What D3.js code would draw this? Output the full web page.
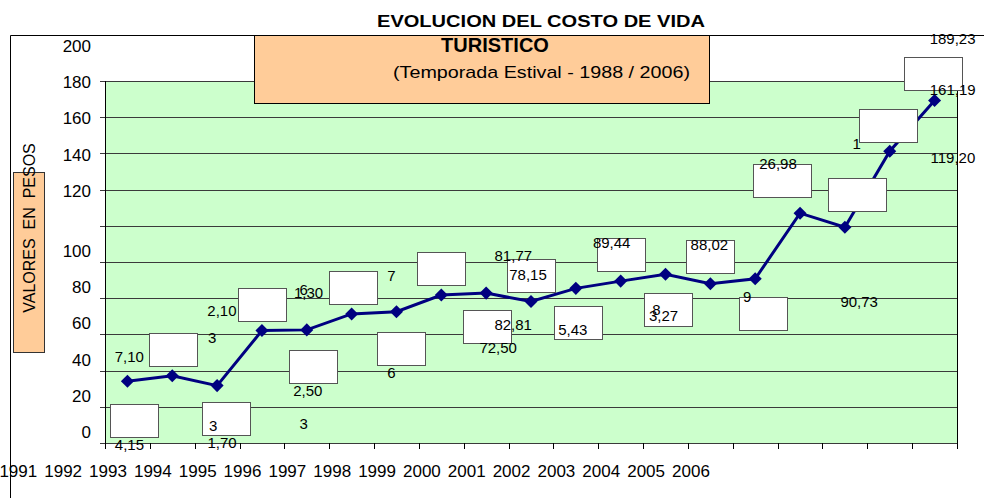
<!DOCTYPE html>
<html>
<head>
<meta charset="utf-8">
<script src="https://cdn.jsdelivr.net/npm/d3@7/dist/d3.min.js"></script>
<style>
  body { margin: 0; background: #fff; }
  text { font-family: "Liberation Sans", Arial, sans-serif; fill: #000; }
</style>
</head>
<body>
<div class="chart"></div>
<script>
// temporada estival, costo de vida turistico
const years = ['1988','1989','1990','1991','1992','1993','1994','1995','1996','1997',
  '1998','1999','2000','2001','2002','2003','2004','2005','2006'];
const costo = [34.15, 37.10, 31.70, 62.10, 62.50, 71.30, 72.50, 81.77, 82.81, 78.15,
  85.43, 89.44, 93.27, 88.02, 90.73, 126.98, 119.20, 161.19, 189.23];
const yTicks = [0, 20, 40, 60, 80, 100, 120, 140, 160, 180, 200];
const xTickLabels = ['1991','1992','1993','1994','1995','1996','1997','1998','1999',
  '2000','2001','2002','2003','2004','2005','2006'];

// white label boxes around each point: [dx, dy, width]
const boxLayout = [[7,39,48],[1,-26,48],[9,33,48],[0,-26,48],[6,37,48],[1,-26,48],
  [5,37,48],[0,-26,48],[1,33,48],[0,-26,48],[2,34,48],[0,-27,48],[2,35,48],[0,-27,48],
  [8,35,48],[-18,-33,58],[12,-33,58],[-2,-26,58],[-2,-27,58]];
// scattered label text pieces: [point, text, dx, dy]
const labelBits = [
  [0,'4,15',2,64],[1,'7,10',-43,-19],[1,'3',40,-38],[2,'3',-4,40],[2,'1,70',5,57],
  [3,'2,10',-40,-20],[4,'2,50',1,61],[4,'3',-3,94],[5,'1,30',-43,-21],[5,'6',-48,-24],
  [6,'7',-5,-36],[6,'6',-5,61],[7,'81,77',72,-39],[8,'82,81',27,32],[8,'72,50',12,55],
  [9,'78,15',-3,-27],[10,'5,43',-3,41],[11,'89,44',-9,-38],[12,'8',-9,36],[12,'3,27',-2,42],
  [13,'88,02',-1,-39],[14,'9',-8,18],[14,'90,73',104,23],[15,'26,98',-22,-49],
  [16,'119,20',108,-69],[17,'1',-33,-7],[17,'161,19',63,-61],[18,'189,23',18,-62]
];

const width = 984, height = 498;
const svg = d3.select('.chart').append('svg')
  .attr('width', width).attr('height', height);

const x = d3.scaleBand().domain(years).range([105, 957]).padding(0);
const y = d3.scaleLinear().domain([0, 200]).range([443, 81]);
const cx = d => x(d) + x.bandwidth() / 2;

// outer frame
svg.append('line').attr('x1', 10.5).attr('y1', 35.5).attr('x2', width).attr('y2', 35.5)
  .attr('stroke', '#000');
svg.append('line').attr('x1', 10.5).attr('y1', 35.5).attr('x2', 10.5).attr('y2', height)
  .attr('stroke', '#000');

// plot area
svg.append('rect').attr('x', 105).attr('y', y(200)).attr('width', 852)
  .attr('height', y(0) - y(200)).attr('fill', '#CCFFCC');

svg.append('g').selectAll('line').data(yTicks).enter().append('line')
  .attr('x1', 100).attr('x2', 957)
  .attr('y1', d => Math.round(y(d)) + 0.5).attr('y2', d => Math.round(y(d)) + 0.5)
  .attr('stroke', '#3a3a3a').attr('stroke-width', 1);

svg.append('line').attr('x1', 957.5).attr('x2', 957.5).attr('y1', y(200)).attr('y2', y(0) + 5)
  .attr('stroke', '#000');
svg.append('line').attr('x1', 105.5).attr('x2', 105.5).attr('y1', y(200)).attr('y2', y(0) + 5)
  .attr('stroke', '#000');

// x ticks at band edges
const edges = years.map(d => x(d)).concat([957]);
svg.append('g').selectAll('line').data(edges).enter().append('line')
  .attr('x1', d => Math.round(d) + 0.5).attr('x2', d => Math.round(d) + 0.5)
  .attr('y1', y(0)).attr('y2', y(0) + 6).attr('stroke', '#000');

// y tick labels (shifted like the original)
svg.append('g').selectAll('text').data(yTicks).enter().append('text')
  .attr('x', 91).attr('y', d => y(d) + (d > 100 ? -35 : -11))
  .attr('dy', '0.35em').attr('text-anchor', 'end')
  .attr('font-size', 17).text(d => d);

// x tick labels, two steps left of the first band
svg.append('g').selectAll('text').data(xTickLabels).enter().append('text')
  .attr('x', (d, i) => x.range()[0] + x.step() * (i - 2) + 3)
  .attr('y', 477).attr('text-anchor', 'middle')
  .attr('font-size', 17).text(d => d);

// title box
svg.append('rect').attr('x', 254.5).attr('y', 35.5).attr('width', 455).attr('height', 68)
  .attr('fill', '#FFCC99').attr('stroke', '#000');

svg.append('text').attr('x', 541).attr('y', 27).attr('text-anchor', 'middle')
  .attr('font-size', 17).attr('font-weight', 'bold')
  .attr('textLength', 328).attr('lengthAdjust', 'spacingAndGlyphs')
  .text('EVOLUCION DEL COSTO DE VIDA');
svg.append('text').attr('x', 495).attr('y', 52).attr('text-anchor', 'middle')
  .attr('font-size', 20).attr('font-weight', 'bold').text('TURISTICO');
svg.append('text').attr('x', 541.5).attr('y', 78).attr('text-anchor', 'middle')
  .attr('font-size', 17).attr('textLength', 297).attr('lengthAdjust', 'spacingAndGlyphs')
  .text('(Temporada Estival - 1988 / 2006)');

// y axis title
svg.append('rect').attr('x', 13.5).attr('y', 172.5).attr('width', 31).attr('height', 180)
  .attr('fill', '#FFCC99').attr('stroke', '#333');
svg.append('text').attr('transform', 'translate(35,228) rotate(-90)')
  .attr('text-anchor', 'middle').attr('font-size', 16)
  .style('white-space', 'pre').text('VALORES  EN  PESOS');

// series
const line = d3.line().x((d, i) => cx(years[i])).y(d => y(d));
svg.append('path').datum(costo).attr('d', line)
  .attr('fill', 'none').attr('stroke', '#000080').attr('stroke-width', 3);

svg.append('g').selectAll('path').data(costo).enter().append('path')
  .attr('d', d3.symbol(d3.symbolSquare, 85))
  .attr('transform', (d, i) => 'translate(' + cx(years[i]) + ',' + y(d) + ') rotate(45)')
  .attr('fill', '#000080');

// label boxes
svg.append('g').selectAll('rect').data(boxLayout).enter().append('rect')
  .attr('x', (b, i) => Math.round(cx(years[i]) + b[0] - b[2] / 2) + 0.5)
  .attr('y', (b, i) => Math.round(y(costo[i]) + b[1] - 16.5) + 0.5)
  .attr('width', b => b[2]).attr('height', 33)
  .attr('fill', '#fff').attr('stroke', '#555');

// label texts
svg.append('g').selectAll('text').data(labelBits).enter().append('text')
  .attr('x', b => cx(years[b[0]]) + b[2])
  .attr('y', b => y(costo[b[0]]) + b[3])
  .attr('dy', '0.35em').attr('text-anchor', 'middle')
  .attr('font-size', 15).text(b => b[1]);
</script>
</body>
</html>
